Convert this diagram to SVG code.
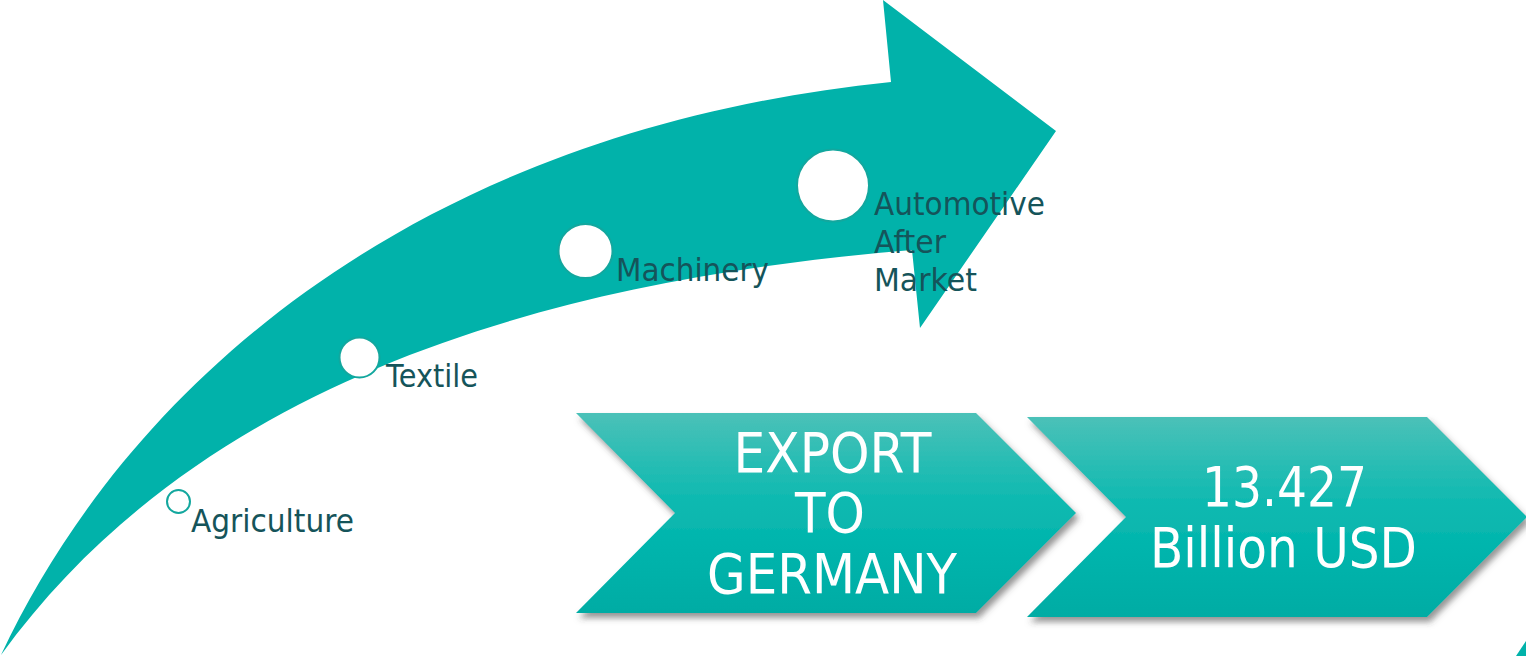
<svg xmlns="http://www.w3.org/2000/svg" width="1526" height="656" viewBox="0 0 1526 656">
  <defs>
    <linearGradient id="chevGrad" x1="0" y1="0" x2="0" y2="1">
      <stop offset="0" stop-color="#4bc1b8"/>
      <stop offset="0.4" stop-color="#12bab1"/>
      <stop offset="0.65" stop-color="#02b5ad"/>
      <stop offset="1" stop-color="#00aca4"/>
    </linearGradient>
    <filter id="shadow" x="-10%" y="-10%" width="125%" height="130%">
      <feDropShadow dx="3" dy="5" stdDeviation="3" flood-color="#404040" flood-opacity="0.55"/>
    </filter>
  </defs>
  <style>
    .teal { fill: #01b2aa; }
    .dot { fill: #ffffff; stroke: #13a79e; stroke-width: 2; }
    .label { font-family: "DejaVu Sans", Verdana, sans-serif; font-size: 32.5px; fill: #15545a; }
    .big { font-family: "DejaVu Sans", Verdana, sans-serif; font-size: 56px; fill: #ffffff; text-anchor: middle; }
    .chev { fill: url(#chevGrad); filter: url(#shadow); }
  </style>

  <g id="connectors">
    <path id="growth-arrow" class="teal" d="M 1,655 C 130,380 420,130 891,82 L 883,0 L 1056,131 L 920,328 L 912,250 C 550,280 200,380 1,655 Z"/>
    <polygon id="corner-shape" class="teal" points="1526,641 1526,656 1516,656"/>
  </g>

  <g id="node-agriculture">
    <circle class="dot" cx="178.5" cy="501.5" r="11.5" stroke-width="2.5"/>
    <text class="label" x="191" y="532" textLength="163" lengthAdjust="spacingAndGlyphs">Agriculture</text>
  </g>

  <g id="node-textile">
    <circle class="dot" cx="359.5" cy="357.5" r="20"/>
    <text class="label" x="386" y="387" textLength="92" lengthAdjust="spacingAndGlyphs">Textile</text>
  </g>

  <g id="node-machinery">
    <circle class="dot" cx="585.5" cy="251" r="27"/>
    <text class="label" x="616" y="281" textLength="153" lengthAdjust="spacingAndGlyphs">Machinery</text>
  </g>

  <g id="node-automotive">
    <circle class="dot" cx="833" cy="185.5" r="36"/>
    <text class="label" x="874" y="215" textLength="171" lengthAdjust="spacingAndGlyphs">Automotive</text>
    <text class="label" x="874" y="253" textLength="72" lengthAdjust="spacingAndGlyphs">After</text>
    <text class="label" x="874" y="291" textLength="103" lengthAdjust="spacingAndGlyphs">Market</text>
  </g>

  <g id="node-export">
    <polygon class="chev" points="576,413 976,413 1076,513 976,613 576,613 675,513"/>
    <text class="big" x="832.5" y="472" textLength="198" lengthAdjust="spacingAndGlyphs">EXPORT</text>
    <text class="big" x="830" y="532" textLength="70" lengthAdjust="spacingAndGlyphs">TO</text>
    <text class="big" x="832" y="593" textLength="250" lengthAdjust="spacingAndGlyphs">GERMANY</text>
  </g>

  <g id="node-value">
    <polygon class="chev" points="1027,417 1427,417 1527,517 1427,617 1027,617 1126,517"/>
    <text class="big" x="1284.5" y="506" textLength="165" lengthAdjust="spacingAndGlyphs">13.427</text>
    <text class="big" x="1283.5" y="567" textLength="267" lengthAdjust="spacingAndGlyphs">Billion USD</text>
  </g>
</svg>
